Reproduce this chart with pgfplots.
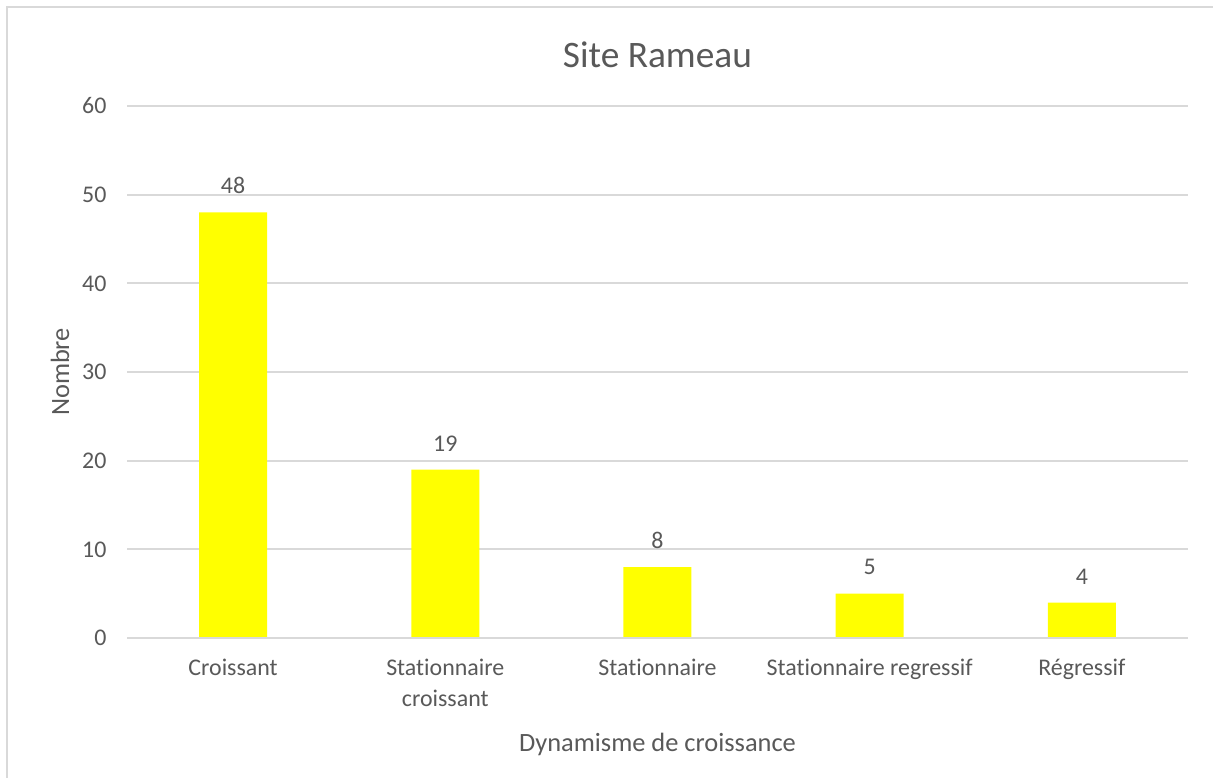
\documentclass[border=0pt]{standalone}
\usepackage{pgfplots}
\pgfplotsset{compat=1.18}
\usepackage{fontspec}
\setmainfont{Carlito}[Ligatures=NoCommon]
\definecolor{txt}{HTML}{595959}
\definecolor{grd}{HTML}{D9D9D9}
\definecolor{bary}{HTML}{FFFF00}
\begin{document}
\begin{tikzpicture}
\clip (0bp,0bp) rectangle (1213bp,778bp);
\useasboundingbox (0bp,0bp) rectangle (1213bp,778bp);
\fill[white] (0bp,0bp) rectangle (1213bp,778bp);
\draw[grd, line width=2bp] (7bp,-20bp) -- (7bp,770.5bp) -- (1230bp,770.5bp);
\begin{axis}[
  at={(127bp,140bp)}, anchor=south west,
  scale only axis, width=1061bp, height=532bp,
  xmin=-0.5, xmax=4.5, ymin=0, ymax=60,
  ytick={0,10,...,60},
  xtick=data,
  xticklabels={Croissant,{Stationnaire\\croissant},Stationnaire,Stationnaire regressif,Régressif},
  axis line style={draw=none},
  axis x line*=bottom,
  ymajorgrids, grid style={grd, line width=2bp},
  major tick length=0pt,
  tick style={draw=none},
  /pgf/number format/assume math mode=true,
  ticklabel style={font=\fontsize{24}{31}\selectfont, text=txt},
  yticklabel style={xshift=-17bp},
  xticklabel style={align=center, anchor=north, yshift=-18bp},
  title={Site Rameau},
  title style={font=\fontsize{37.5}{40}\selectfont, text=txt, at={(axis description cs:0.5,1.085)}, anchor=center},
  xlabel={Dynamisme de croissance},
  xlabel style={font=\fontsize{26.5}{30}\selectfont, text=txt, at={(axis description cs:0.5,-0.2)}, anchor=center},
  ylabel={Nombre},
  ylabel style={font=\fontsize{26.5}{30}\selectfont, text=txt, at={(axis description cs:-0.063,0.5)}, anchor=center},
  nodes near coords,
  nodes near coords style={font=\fontsize{24}{28}\selectfont, text=txt, yshift=15bp},
  clip=false,
]
\addplot[ybar, bar width=68bp, fill=bary, draw=none] coordinates {(0,48) (1,19) (2,8) (3,5) (4,4)};
\draw[grd, line width=2bp] (axis cs:-0.5,0) -- (axis cs:4.5,0);
\end{axis}
\end{tikzpicture}
\end{document}
